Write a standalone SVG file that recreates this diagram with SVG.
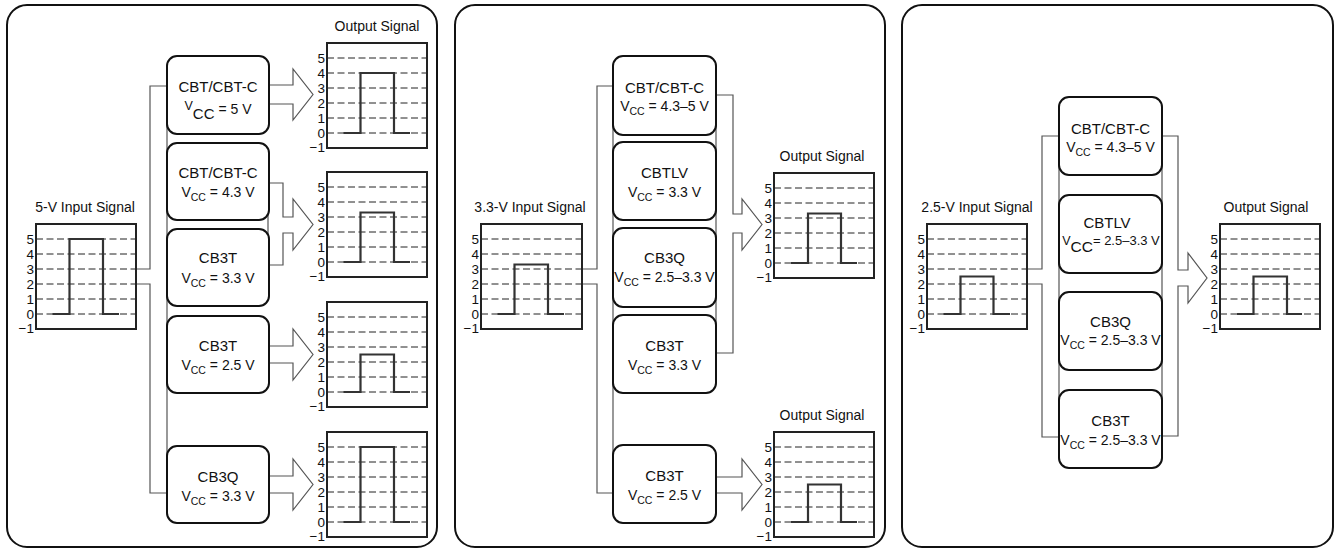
<svg xmlns="http://www.w3.org/2000/svg" width="1336" height="550" viewBox="0 0 1336 550">
<style>
text{font-family:"Liberation Sans",Arial,sans-serif;fill:#111}
.panel{fill:#fff;stroke:#111;stroke-width:2}
.box{fill:#fff;stroke:#111;stroke-width:2}
.frame{fill:#fff;stroke:#222;stroke-width:2}
.grid{fill:none;stroke:#222;stroke-width:1;stroke-dasharray:7,3.5}
.pulse{fill:none;stroke:#333;stroke-width:2.2}
.tick{font-size:13.5px;text-anchor:end}
.title{font-size:14px;text-anchor:middle}
.name{font-size:15px;text-anchor:middle}
.vcc{font-size:14px;text-anchor:middle}
.sub{font-size:10.5px}
.conn{fill:none;stroke:#555;stroke-width:1.2}
</style>
<g id="panels">
<rect class="panel" x="7" y="5" width="430" height="542" rx="20"/>
<rect class="panel" x="455" y="5" width="430" height="542" rx="20"/>
<rect class="panel" x="902" y="5" width="431" height="542" rx="20"/>
</g>
<g id="connectors">
<path class="conn" d="M136,269H150V86H167M136,284H150V493H167"/>
<path class="conn" d="M167,86V493M268,200V250"/>
<path class="conn" d="M269,85H293V69L313,94.5L293,120V104H269"/>
<path class="conn" d="M269,183H283V217H293V199L313,224.5L293,250V233H283V265H269"/>
<path class="conn" d="M269,346H293V329L313,354.5L293,380V363H269"/>
<path class="conn" d="M269,476H293V459L313,484.5L293,510V493H269"/>
<path class="conn" d="M582,269H597V86H613M582,284H597V493H613"/>
<path class="conn" d="M613,86V493M716,95V353"/>
<path class="conn" d="M716,95H733V214H742V199L762,224.5L742,250V233H733V353H716"/>
<path class="conn" d="M716,477H742V459L762,484.5L742,510V493H716"/>
<path class="conn" d="M1027,269H1042V136H1059M1027,284H1042V437H1059"/>
<path class="conn" d="M1059,136V437M1162,136V436"/>
<path class="conn" d="M1162,136H1178V270H1188V253L1207,278L1188,303V286H1178V436H1162"/>
</g>
<g id="p1-input">
<text class="title" x="85" y="212">5-V Input Signal</text>
<g transform="translate(36,224)">
<rect class="frame" x="0" y="0" width="100" height="105"/>
<path class="grid" d="M0,15H100M0,30H100M0,45H100M0,60H100M0,75H100M0,90H100"/>
<text class="tick" x="-2" y="19.5">5</text><text class="tick" x="-2" y="34.5">4</text><text class="tick" x="-2" y="49.5">3</text><text class="tick" x="-2" y="64.5">2</text><text class="tick" x="-2" y="79.5">1</text><text class="tick" x="-2" y="94.5">0</text><text class="tick" x="-2" y="109">−1</text>
<polyline class="pulse" points="16.5,90 33.5,90 33.5,15 67,15 67,90 83,90"/>
</g>
</g>
<g id="p1-out1">
<text class="title" x="377" y="31">Output Signal</text>
<g transform="translate(327,43)">
<rect class="frame" x="0" y="0" width="100" height="105"/>
<path class="grid" d="M0,15H100M0,30H100M0,45H100M0,60H100M0,75H100M0,90H100"/>
<text class="tick" x="-2" y="19.5">5</text><text class="tick" x="-2" y="34.5">4</text><text class="tick" x="-2" y="49.5">3</text><text class="tick" x="-2" y="64.5">2</text><text class="tick" x="-2" y="79.5">1</text><text class="tick" x="-2" y="94.5">0</text><text class="tick" x="-2" y="109">−1</text>
<polyline class="pulse" points="16.5,90 33.5,90 33.5,30 67,30 67,90 83,90"/>
</g>
</g>
<g id="p1-out2">
<g transform="translate(327,172)">
<rect class="frame" x="0" y="0" width="100" height="105"/>
<path class="grid" d="M0,15H100M0,30H100M0,45H100M0,60H100M0,75H100M0,90H100"/>
<text class="tick" x="-2" y="19.5">5</text><text class="tick" x="-2" y="34.5">4</text><text class="tick" x="-2" y="49.5">3</text><text class="tick" x="-2" y="64.5">2</text><text class="tick" x="-2" y="79.5">1</text><text class="tick" x="-2" y="94.5">0</text><text class="tick" x="-2" y="109">−1</text>
<polyline class="pulse" points="16.5,90 33.5,90 33.5,40.5 67,40.5 67,90 83,90"/>
</g>
</g>
<g id="p1-out3">
<g transform="translate(327,302)">
<rect class="frame" x="0" y="0" width="100" height="105"/>
<path class="grid" d="M0,15H100M0,30H100M0,45H100M0,60H100M0,75H100M0,90H100"/>
<text class="tick" x="-2" y="19.5">5</text><text class="tick" x="-2" y="34.5">4</text><text class="tick" x="-2" y="49.5">3</text><text class="tick" x="-2" y="64.5">2</text><text class="tick" x="-2" y="79.5">1</text><text class="tick" x="-2" y="94.5">0</text><text class="tick" x="-2" y="109">−1</text>
<polyline class="pulse" points="16.5,90 33.5,90 33.5,52.5 67,52.5 67,90 83,90"/>
</g>
</g>
<g id="p1-out4">
<g transform="translate(327,432)">
<rect class="frame" x="0" y="0" width="100" height="105"/>
<path class="grid" d="M0,15H100M0,30H100M0,45H100M0,60H100M0,75H100M0,90H100"/>
<text class="tick" x="-2" y="19.5">5</text><text class="tick" x="-2" y="34.5">4</text><text class="tick" x="-2" y="49.5">3</text><text class="tick" x="-2" y="64.5">2</text><text class="tick" x="-2" y="79.5">1</text><text class="tick" x="-2" y="94.5">0</text><text class="tick" x="-2" y="109">−1</text>
<polyline class="pulse" points="16.5,90 33.5,90 33.5,15 67,15 67,90 83,90"/>
</g>
</g>
<g id="p1-box1">
<rect class="box" x="167" y="56" width="102" height="78" rx="10"/>
<text class="name" x="218" y="92">CBT/CBT-C</text>
<text class="vcc" x="218" y="114"><tspan font-size="12.5px" dy="-4">V</tspan><tspan font-size="15px" dy="9">CC</tspan><tspan dy="-5"> = 5 V</tspan></text>
</g>
<g id="p1-box2">
<rect class="box" x="167" y="143" width="102" height="77" rx="10"/>
<text class="name" x="218" y="178">CBT/CBT-C</text>
<text class="vcc" x="218" y="197">V<tspan class="sub" dy="4">CC</tspan><tspan dy="-4"> = 4.3 V</tspan></text>
</g>
<g id="p1-box3">
<rect class="box" x="167" y="229" width="102" height="77" rx="10"/>
<text class="name" x="218" y="263">CB3T</text>
<text class="vcc" x="218" y="283">V<tspan class="sub" dy="4">CC</tspan><tspan dy="-4"> = 3.3 V</tspan></text>
</g>
<g id="p1-box4">
<rect class="box" x="167" y="316" width="102" height="77" rx="10"/>
<text class="name" x="218" y="351">CB3T</text>
<text class="vcc" x="218" y="370">V<tspan class="sub" dy="4">CC</tspan><tspan dy="-4"> = 2.5 V</tspan></text>
</g>
<g id="p1-box5">
<rect class="box" x="167" y="446" width="102" height="77" rx="10"/>
<text class="name" x="218" y="482">CB3Q</text>
<text class="vcc" x="218" y="501">V<tspan class="sub" dy="4">CC</tspan><tspan dy="-4"> = 3.3 V</tspan></text>
</g>
<g id="p2-input">
<text class="title" x="530" y="212">3.3-V Input Signal</text>
<g transform="translate(481,224)">
<rect class="frame" x="0" y="0" width="101" height="105"/>
<path class="grid" d="M0,15H101M0,30H101M0,45H101M0,60H101M0,75H101M0,90H101"/>
<text class="tick" x="-2" y="19.5">5</text><text class="tick" x="-2" y="34.5">4</text><text class="tick" x="-2" y="49.5">3</text><text class="tick" x="-2" y="64.5">2</text><text class="tick" x="-2" y="79.5">1</text><text class="tick" x="-2" y="94.5">0</text><text class="tick" x="-2" y="109">−1</text>
<polyline class="pulse" points="16.5,90 33.5,90 33.5,40.5 67,40.5 67,90 83,90"/>
</g>
</g>
<g id="p2-out1">
<text class="title" x="822" y="161">Output Signal</text>
<g transform="translate(774,173)">
<rect class="frame" x="0" y="0" width="100" height="105"/>
<path class="grid" d="M0,15H100M0,30H100M0,45H100M0,60H100M0,75H100M0,90H100"/>
<text class="tick" x="-2" y="19.5">5</text><text class="tick" x="-2" y="34.5">4</text><text class="tick" x="-2" y="49.5">3</text><text class="tick" x="-2" y="64.5">2</text><text class="tick" x="-2" y="79.5">1</text><text class="tick" x="-2" y="94.5">0</text><text class="tick" x="-2" y="109">−1</text>
<polyline class="pulse" points="17,90 34,90 34,40.5 67,40.5 67,90 83,90"/>
</g>
</g>
<g id="p2-out2">
<text class="title" x="822" y="420">Output Signal</text>
<g transform="translate(774,432)">
<rect class="frame" x="0" y="0" width="100" height="105"/>
<path class="grid" d="M0,15H100M0,30H100M0,45H100M0,60H100M0,75H100M0,90H100"/>
<text class="tick" x="-2" y="19.5">5</text><text class="tick" x="-2" y="34.5">4</text><text class="tick" x="-2" y="49.5">3</text><text class="tick" x="-2" y="64.5">2</text><text class="tick" x="-2" y="79.5">1</text><text class="tick" x="-2" y="94.5">0</text><text class="tick" x="-2" y="109">−1</text>
<polyline class="pulse" points="17,90 34,90 34,52.5 67,52.5 67,90 83,90"/>
</g>
</g>
<g id="p2-box1">
<rect class="box" x="613" y="56" width="103" height="79" rx="10"/>
<text class="name" x="664.5" y="93">CBT/CBT-C</text>
<text class="vcc" x="664.5" y="111">V<tspan class="sub" dy="4">CC</tspan><tspan dy="-4"> = 4.3–5 V</tspan></text>
</g>
<g id="p2-box2">
<rect class="box" x="613" y="142" width="103" height="78" rx="10"/>
<text class="name" x="664.5" y="178">CBTLV</text>
<text class="vcc" x="664.5" y="197">V<tspan class="sub" dy="4">CC</tspan><tspan dy="-4"> = 3.3 V</tspan></text>
</g>
<g id="p2-box3">
<rect class="box" x="613" y="228" width="103" height="79" rx="10" stroke-width="2.6"/>
<text class="name" x="664.5" y="263">CB3Q</text>
<text class="vcc" x="664.5" y="282">V<tspan class="sub" dy="4">CC</tspan><tspan dy="-4"> = 2.5–3.3 V</tspan></text>
</g>
<g id="p2-box4">
<rect class="box" x="613" y="315" width="103" height="78" rx="10"/>
<text class="name" x="664.5" y="351">CB3T</text>
<text class="vcc" x="664.5" y="370">V<tspan class="sub" dy="4">CC</tspan><tspan dy="-4"> = 3.3 V</tspan></text>
</g>
<g id="p2-box5">
<rect class="box" x="613" y="445" width="103" height="78" rx="10"/>
<text class="name" x="664.5" y="481">CB3T</text>
<text class="vcc" x="664.5" y="500">V<tspan class="sub" dy="4">CC</tspan><tspan dy="-4"> = 2.5 V</tspan></text>
</g>
<g id="p3-input">
<text class="title" x="977" y="212">2.5-V Input Signal</text>
<g transform="translate(927,224)">
<rect class="frame" x="0" y="0" width="100" height="105"/>
<path class="grid" d="M0,15H100M0,30H100M0,45H100M0,60H100M0,75H100M0,90H100"/>
<text class="tick" x="-2" y="19.5">5</text><text class="tick" x="-2" y="34.5">4</text><text class="tick" x="-2" y="49.5">3</text><text class="tick" x="-2" y="64.5">2</text><text class="tick" x="-2" y="79.5">1</text><text class="tick" x="-2" y="94.5">0</text><text class="tick" x="-2" y="109">−1</text>
<polyline class="pulse" points="16.5,90 33.5,90 33.5,52.5 66.5,52.5 66.5,90 83,90"/>
</g>
</g>
<g id="p3-out">
<text class="title" x="1266" y="212">Output Signal</text>
<g transform="translate(1220,224)">
<rect class="frame" x="0" y="0" width="100" height="105"/>
<path class="grid" d="M0,15H100M0,30H100M0,45H100M0,60H100M0,75H100M0,90H100"/>
<text class="tick" x="-2" y="19.5">5</text><text class="tick" x="-2" y="34.5">4</text><text class="tick" x="-2" y="49.5">3</text><text class="tick" x="-2" y="64.5">2</text><text class="tick" x="-2" y="79.5">1</text><text class="tick" x="-2" y="94.5">0</text><text class="tick" x="-2" y="109">−1</text>
<polyline class="pulse" points="17,90 33.5,90 33.5,52.5 67,52.5 67,90 82,90"/>
</g>
</g>
<g id="p3-box1">
<rect class="box" x="1059" y="97" width="103" height="78" rx="10"/>
<text class="name" x="1110.5" y="134">CBT/CBT-C</text>
<text class="vcc" x="1110.5" y="152">V<tspan class="sub" dy="4">CC</tspan><tspan dy="-4"> = 4.3–5 V</tspan></text>
</g>
<g id="p3-box2">
<rect class="box" x="1059" y="195" width="103" height="78" rx="10"/>
<text class="name" x="1107" y="228">CBTLV</text>
<text class="vcc" x="1111" y="245"><tspan font-size="12.5px">V</tspan><tspan font-size="15.5px" dy="7">CC</tspan><tspan font-size="13px" dy="-7">= 2.5–3.3 V</tspan></text>
</g>
<g id="p3-box3">
<rect class="box" x="1059" y="292" width="103" height="78" rx="10"/>
<text class="name" x="1110.5" y="327">CB3Q</text>
<text class="vcc" x="1110.5" y="345">V<tspan class="sub" dy="4">CC</tspan><tspan dy="-4"> = 2.5–3.3 V</tspan></text>
</g>
<g id="p3-box4">
<rect class="box" x="1059" y="390" width="103" height="78" rx="10"/>
<text class="name" x="1110.5" y="426">CB3T</text>
<text class="vcc" x="1110.5" y="445">V<tspan class="sub" dy="4">CC</tspan><tspan dy="-4"> = 2.5–3.3 V</tspan></text>
</g>
</svg>
